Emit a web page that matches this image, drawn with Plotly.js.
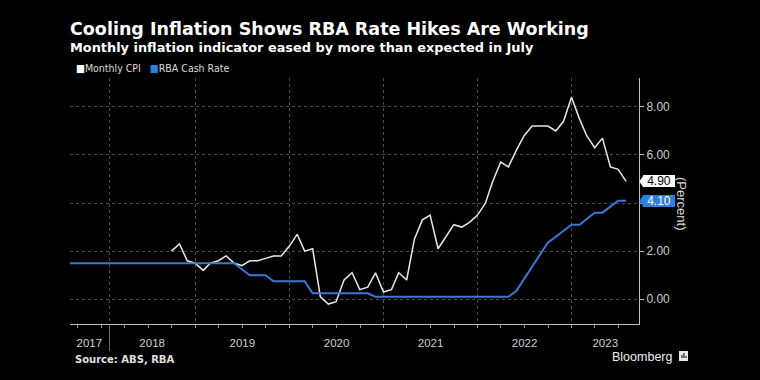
<!DOCTYPE html>
<html>
<head>
<meta charset="utf-8">
<script src="https://cdn.plot.ly/plotly-3.0.1.min.js"></script>
<style>html,body{margin:0;padding:0;background:#000;}#chart{width:760px;height:380px;}</style>
</head>
<body>
<div id="chart"></div>
<script>
// ---- data ----
const seriesNames = ['Monthly CPI', 'RBA Cash Rate'];
// Monthly CPI indicator, annual % change, Sep 2018 .. Jul 2023 (month-end)
const cpiStart = [2018, 9];
const cpiValues = [
  2.0, 2.3, 1.6, 1.5,
  1.2, 1.5, 1.6, 1.8, 1.5, 1.4, 1.6, 1.6, 1.7, 1.8, 1.8, 2.2,
  2.7, 2.0, 2.1, 0.1, -0.2, -0.1, 0.8, 1.1, 0.4, 0.5, 1.1, 0.3,
  0.4, 1.1, 0.8, 2.5, 3.3, 3.5, 2.1, 2.6, 3.1, 3.0, 3.2, 3.5,
  4.0, 4.9, 5.7, 5.5, 6.2, 6.8, 7.2, 7.2, 7.2, 7.0, 7.4, 8.4,
  7.5, 6.8, 6.3, 6.7, 5.5, 5.4, 4.9
];
// RBA cash rate target, %, Jul 2017 .. Jul 2023 (month-end)
const rateStart = [2017, 7];
const rateValues = [
  1.50, 1.50, 1.50, 1.50, 1.50, 1.50,
  1.50, 1.50, 1.50, 1.50, 1.50, 1.50, 1.50, 1.50, 1.50, 1.50, 1.50, 1.50,
  1.50, 1.50, 1.50, 1.50, 1.50, 1.25, 1.00, 1.00, 1.00, 0.75, 0.75, 0.75,
  0.75, 0.75, 0.25, 0.25, 0.25, 0.25, 0.25, 0.25, 0.25, 0.25, 0.10, 0.10,
  0.10, 0.10, 0.10, 0.10, 0.10, 0.10, 0.10, 0.10, 0.10, 0.10, 0.10, 0.10,
  0.10, 0.10, 0.10, 0.10, 0.35, 0.85, 1.35, 1.85, 2.35, 2.60, 2.85, 3.10,
  3.10, 3.35, 3.60, 3.60, 3.85, 4.10, 4.10
];
const yearLabels = ['2017', '2018', '2019', '2020', '2021', '2022', '2023'];
const yearLabelDates = ['2017-11-15', '2018-07-17', '2019-07-02', '2020-07-02', '2021-07-02', '2022-07-02', '2023-05-11'];
const yearBoundaries = ['2018-01-31', '2019-01-01', '2020-01-01', '2021-01-01', '2022-01-01', '2023-01-01'];
const yTicks = [0, 2, 4, 6, 8];

// ---- helpers ----
function monthEnds(start, n) {
  const out = [];
  for (let i = 0; i < n; i++) {
    const d = new Date(Date.UTC(start[0], start[1] - 1 + i + 1, 0));
    out.push(d.toISOString().slice(0, 10));
  }
  return out;
}
const cpiDates = monthEnds(cpiStart, cpiValues.length);
const rateDates = monthEnds(rateStart, rateValues.length);

const xRange = ['2017-09-01', '2023-09-19'];
const yRange = [-1.03, 9.2];
const plotH = 380 - 78 - 56;
const unitsPerPx = (yRange[1] - yRange[0]) / plotH;

const white = '#e8e8e8';
const blue = '#3a78d4';
const boxBlue = '#2a80dc';
const axisFont = {family: 'Liberation Sans, Arial, sans-serif', size: 12, color: '#cfcfcf'};

const traces = [
  {type: 'scatter', mode: 'lines', name: seriesNames[0], x: cpiDates, y: cpiValues,
   line: {color: white, width: 1.5}, hoverinfo: 'skip'},
  {type: 'scatter', mode: 'lines', name: seriesNames[1], x: rateDates, y: rateValues,
   line: {color: blue, width: 2}, hoverinfo: 'skip'},
  // carrier for the year-label axis (draws nothing)
  {type: 'scatter', mode: 'lines', x: xRange, y: [null, null], xaxis: 'x2', yaxis: 'y',
   showlegend: false, hoverinfo: 'skip'}
];

const lastCpi = cpiValues[cpiValues.length - 1];
const lastRate = rateValues[rateValues.length - 1];

function valueTag(v, bg, fg) {
  return {xref: 'paper', yref: 'y', x: 1, y: v, xanchor: 'left', yanchor: 'middle', xshift: 3.5,
    text: v.toFixed(2), showarrow: false, bgcolor: bg, borderwidth: 0, borderpad: 1,
    width: 30, height: 10, font: {family: 'Liberation Sans, Arial, sans-serif', size: 12, color: fg}};
}
function tagArrow(v, color) {
  const h = 6 * unitsPerPx;
  const dx = 4.5 / 569;
  return {type: 'path', xref: 'paper', yref: 'y',
    path: `M 1.0005,${v} L ${1 + dx},${v + h} L ${1 + dx},${v - h} Z`,
    fillcolor: color, line: {width: 0}, layer: 'above'};
}

const layout = {
  width: 760, height: 380,
  paper_bgcolor: '#000', plot_bgcolor: '#000',
  margin: {l: 70, r: 121, t: 78, b: 56},
  showlegend: false,
  title: {
    text: '<b>Cooling Inflation Shows RBA Rate Hikes Are Working</b>',
    xref: 'container', x: 70 / 760, xanchor: 'left',
    yref: 'container', y: 1 - 29 / 380, yanchor: 'middle',
    font: {family: 'DejaVu Sans, sans-serif', size: 17.5, color: '#ffffff'}
  },
  xaxis: {
    type: 'date', range: xRange, tickmode: 'array', tickvals: yearBoundaries,
    ticktext: yearBoundaries.map(() => ''), showticklabels: false,
    ticks: 'outside', ticklen: 26, tickcolor: '#6a6a6a', tickwidth: 1,
    showgrid: true, gridcolor: '#4d4d4d', griddash: 'dot', gridwidth: 1,
    showline: true, linecolor: '#bdbdbd', linewidth: 1, zeroline: false,
    minor: {ticks: 'outside', ticklen: 3, tickcolor: '#9a9a9a', tickmode: 'linear',
            tick0: '2017-01-01', dtick: 'M3', showgrid: false},
    fixedrange: true
  },
  xaxis2: {
    type: 'date', overlaying: 'x', anchor: 'y', side: 'bottom', range: xRange,
    tickmode: 'array', tickvals: yearLabelDates, ticktext: yearLabels,
    ticks: '', showgrid: false, zeroline: false, showline: false,
    tickfont: {family: 'Liberation Sans, Arial, sans-serif', size: 11.5, color: '#cfcfcf'},
    ticklabelstandoff: 10, fixedrange: true
  },
  yaxis: {
    side: 'right', range: yRange, tickmode: 'array', tickvals: yTicks,
    ticktext: yTicks.map(v => v === 4 ? '' : v.toFixed(2)),
    ticks: 'outside', ticklen: 4, tickcolor: '#bdbdbd',
    showline: true, linecolor: '#bdbdbd', linewidth: 1,
    showgrid: true, gridcolor: '#4d4d4d', griddash: 'dot', gridwidth: 1,
    zeroline: false, tickfont: axisFont, fixedrange: true
  },
  shapes: [
    tagArrow(lastCpi, '#ffffff'),
    tagArrow(lastRate, boxBlue),
    // Bloomberg mark
    {type: 'rect', xref: 'paper', yref: 'paper',
     x0: (679 - 70) / 569, x1: (688 - 70) / 569, y0: (324 - 361) / 246, y1: (324 - 351) / 246,
     fillcolor: '#e8e8e8', line: {width: 0}},
    {type: 'rect', xref: 'paper', yref: 'paper',
     x0: (681.5 - 70) / 569, x1: (682.5 - 70) / 569, y0: (324 - 358) / 246, y1: (324 - 355) / 246,
     fillcolor: '#000', line: {width: 0}},
    {type: 'rect', xref: 'paper', yref: 'paper',
     x0: (683.5 - 70) / 569, x1: (684.5 - 70) / 569, y0: (324 - 358) / 246, y1: (324 - 353) / 246,
     fillcolor: '#000', line: {width: 0}},
    {type: 'rect', xref: 'paper', yref: 'paper',
     x0: (685.5 - 70) / 569, x1: (686.5 - 70) / 569, y0: (324 - 358) / 246, y1: (324 - 356) / 246,
     fillcolor: '#000', line: {width: 0}}
  ],
  annotations: [
    {xref: 'paper', yref: 'paper', x: 0, xshift: -2.5, y: (324 - 47) / 246, xanchor: 'left', yanchor: 'middle',
     showarrow: false, text: '<b>Monthly inflation indicator eased by more than expected in July</b>',
     font: {family: 'DejaVu Sans, sans-serif', size: 12.9, color: '#ffffff'}},
    {xref: 'paper', yref: 'paper', x: 4 / 569, y: (324 - 68) / 246, xanchor: 'left', yanchor: 'middle',
     showarrow: false,
     text: '<span style="color:#ffffff">■</span>' + seriesNames[0] + '   <span style="color:' + boxBlue + '">■</span>' + seriesNames[1],
     font: {family: 'Liberation Sans Narrow, DejaVu Sans Condensed, Liberation Sans, sans-serif', size: 10.5, color: '#dcdcdc'}},
    valueTag(lastCpi, '#ffffff', '#000000'),
    valueTag(lastRate, boxBlue, '#ffffff'),
    {xref: 'paper', yref: 'paper', x: (682 - 70) / 569, y: (324 - 203) / 246, xanchor: 'center', yanchor: 'middle',
     showarrow: false, text: '(Percent)', textangle: 90,
     font: {family: 'Liberation Sans, Arial, sans-serif', size: 13, color: '#d8d8d8'}},
    {xref: 'paper', yref: 'paper', x: 2.5 / 569, y: (324 - 359) / 246, xanchor: 'left', yanchor: 'middle',
     showarrow: false, text: '<b>Source: ABS, RBA</b>',
     font: {family: 'DejaVu Sans, sans-serif', size: 10, color: '#e0e0e0'}},
    {xref: 'paper', yref: 'paper', x: (674 - 70) / 569, y: (324 - 357) / 246, xanchor: 'right', yanchor: 'middle',
     showarrow: false, text: 'Bloomberg',
     font: {family: 'Liberation Sans, Arial, sans-serif', size: 12.5, color: '#f0f0f0'}}
  ]
};

Plotly.newPlot('chart', traces, layout, {displayModeBar: false, staticPlot: true});
</script>
</body>
</html>
